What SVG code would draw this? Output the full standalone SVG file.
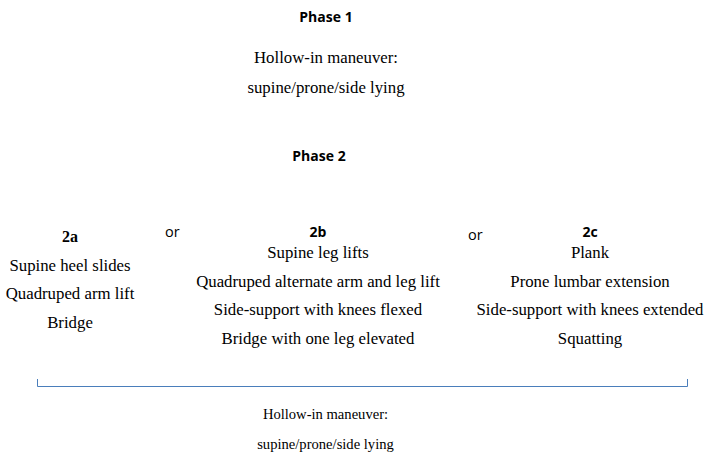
<svg xmlns="http://www.w3.org/2000/svg" width="706" height="454" viewBox="0 0 706 454">
<style>
.t{font-size:16.8px;fill:#000;text-anchor:middle}
.tb{font-size:14.6px;fill:#000;text-anchor:middle}
.h{font-size:14px;font-weight:bold;fill:#000;text-anchor:middle}
.hs{font-size:16px;font-weight:bold;fill:#000;text-anchor:middle}
.or{font-size:14.5px;fill:#000}
.br{fill:none;stroke:#4a7ebb;stroke-width:1}
</style>
<rect width="706" height="454" fill="#fff"/>
<g id="phase1">
<text class="h" font-family="Open Sans, Liberation Sans, sans-serif" x="326" y="22">Phase 1</text>
<text class="t" font-family="Liberation Serif, serif" x="326" y="63">Hollow-in maneuver:</text>
<text class="t" font-family="Liberation Serif, serif" x="326" y="93">supine/prone/side lying</text>
</g>
<g id="phase2">
<text class="h" font-family="Open Sans, Liberation Sans, sans-serif" x="319" y="161">Phase 2</text>
</g>
<g id="p2a">
<text class="hs" font-family="Liberation Serif, serif" x="70" y="242">2a</text>
<text class="t" font-family="Liberation Serif, serif" x="70" y="271">Supine heel slides</text>
<text class="t" font-family="Liberation Serif, serif" x="70" y="299">Quadruped arm lift</text>
<text class="t" font-family="Liberation Serif, serif" x="70" y="328">Bridge</text>
</g>
<g id="or1"><text class="or" font-family="Open Sans, Liberation Sans, sans-serif" x="165" y="237">or</text></g>
<g id="p2b">
<text class="h" font-family="Open Sans, Liberation Sans, sans-serif" x="318" y="237">2b</text>
<text class="t" font-family="Liberation Serif, serif" x="318" y="258">Supine leg lifts</text>
<text class="t" font-family="Liberation Serif, serif" x="318" y="287">Quadruped alternate arm and leg lift</text>
<text class="t" font-family="Liberation Serif, serif" x="318" y="315">Side-support with knees flexed</text>
<text class="t" font-family="Liberation Serif, serif" x="318" y="344">Bridge with one leg elevated</text>
</g>
<g id="or2"><text class="or" font-family="Open Sans, Liberation Sans, sans-serif" x="468" y="240">or</text></g>
<g id="p2c">
<text class="h" font-family="Open Sans, Liberation Sans, sans-serif" x="590" y="237">2c</text>
<text class="t" font-family="Liberation Serif, serif" x="590" y="258">Plank</text>
<text class="t" font-family="Liberation Serif, serif" x="590" y="287">Prone lumbar extension</text>
<text class="t" font-family="Liberation Serif, serif" x="590" y="315">Side-support with knees extended</text>
<text class="t" font-family="Liberation Serif, serif" x="590" y="344">Squatting</text>
</g>
<g id="connectors">
<path class="br" d="M37.5,379 V386.5 H687.5 V379"/>
</g>
<g id="bottom">
<text class="tb" font-family="Liberation Serif, serif" x="325.5" y="419">Hollow-in maneuver:</text>
<text class="tb" font-family="Liberation Serif, serif" x="325.5" y="449">supine/prone/side lying</text>
</g>
</svg>
